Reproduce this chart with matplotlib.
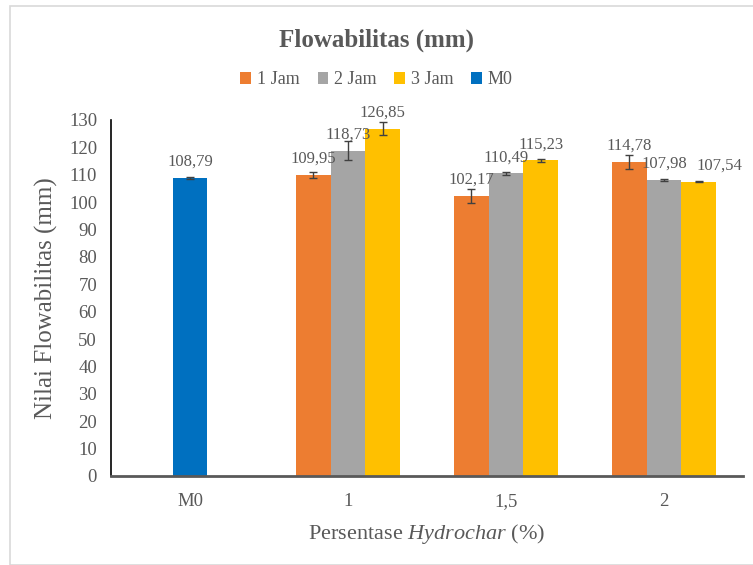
import numpy as np
import matplotlib.pyplot as plt
from matplotlib.patches import Rectangle

plt.rcParams['font.family'] = ['Liberation Serif', 'DejaVu Serif']
plt.rcParams['mathtext.fontset'] = 'custom'
plt.rcParams['mathtext.rm'] = 'Liberation Serif'
plt.rcParams['mathtext.it'] = 'Liberation Serif:italic'

# data
categories = ['M0', '1', '1,5', '2']
m0_value = [108.79]
m0_err = [0.3]
jam1 = [109.95, 102.17, 114.78]
jam1_err = [1.2, 2.5, 2.5]
jam2 = [118.73, 110.49, 107.98]
jam2_err = [3.5, 0.6, 0.3]
jam3 = [126.85, 115.23, 107.54]
jam3_err = [2.5, 0.4, 0.3]
series_names = ['1 Jam', '2 Jam', '3 Jam', 'M0']
colors = ['#ED7D31', '#A5A5A5', '#FFC000', '#0070C0']

txt = '#595959'

fig = plt.figure(figsize=(7.53, 5.65), dpi=100)
fig.patches.append(Rectangle((10/753, 0), 1, 1 - 6/565, transform=fig.transFigure,
                             fill=False, edgecolor='#d9d9d9', lw=1.2))
ax = fig.add_axes([111/753, 1 - 476/565, (743-111)/753, (476-120)/565])

w = 0.22
x = np.arange(len(categories))
xg = x[1:]
def fmt(v):
    return f'{v:.2f}'.replace('.', ',')

ekw = dict(ecolor='#404040', elinewidth=1, capsize=3, capthick=1)
for k, (vals, errs) in enumerate([(jam1, jam1_err), (jam2, jam2_err), (jam3, jam3_err)]):
    pos = xg + (k - 1) * w
    ax.bar(pos, vals, w, yerr=errs, color=colors[k], label=series_names[k], error_kw=ekw)
    for i, (xi, v) in enumerate(zip(pos, vals)):
        dx = 0.13 if (k == 2 and i == 2) else 0  # last label pushed right, as in the original
        ax.text(xi + dx, v + 3, fmt(v), ha='center', va='bottom', fontsize=12, color=txt)
ax.bar(x[:1], m0_value, w, yerr=m0_err, color=colors[3], label=series_names[3], error_kw=ekw)
ax.text(x[0], m0_value[0] + 3, fmt(m0_value[0]), ha='center', va='bottom', fontsize=12, color=txt)

ax.set_xlim(-0.5, 3.5)
ax.set_ylim(0, 130)
ax.set_yticks(np.arange(0, 131, 10))
ax.set_xticks(x)
ax.set_xticklabels(categories)
ax.tick_params(axis='both', length=0, labelsize=13.5, colors=txt)
ax.tick_params(axis='x', pad=12)
ax.tick_params(axis='y', pad=10)
for s in ['top', 'right']:
    ax.spines[s].set_visible(False)
ax.spines['left'].set_color('black')
ax.spines['left'].set_linewidth(1.2)
ax.spines['bottom'].set_color('#595959')
ax.spines['bottom'].set_linewidth(2)

ax.set_ylabel('Nilai Flowabilitas (mm)', fontsize=18, color=txt, labelpad=8)
ax.set_xlabel('Persentase $\\it{Hydrochar}$ (%)', fontsize=16, color=txt, labelpad=9)

fig.text(0.5, 1 - 40/565, 'Flowabilitas (mm)', ha='center', va='center', fontsize=18,
         fontweight='bold', color=txt)
fig.legend(loc='center', bbox_to_anchor=(0.5, 1 - 80/565), ncol=4, frameon=False,
           fontsize=13, handlelength=0.6, handleheight=0.6, handletextpad=0.3,
           columnspacing=1.0, labelcolor=txt)

fig.savefig('out.png', dpi=100)
